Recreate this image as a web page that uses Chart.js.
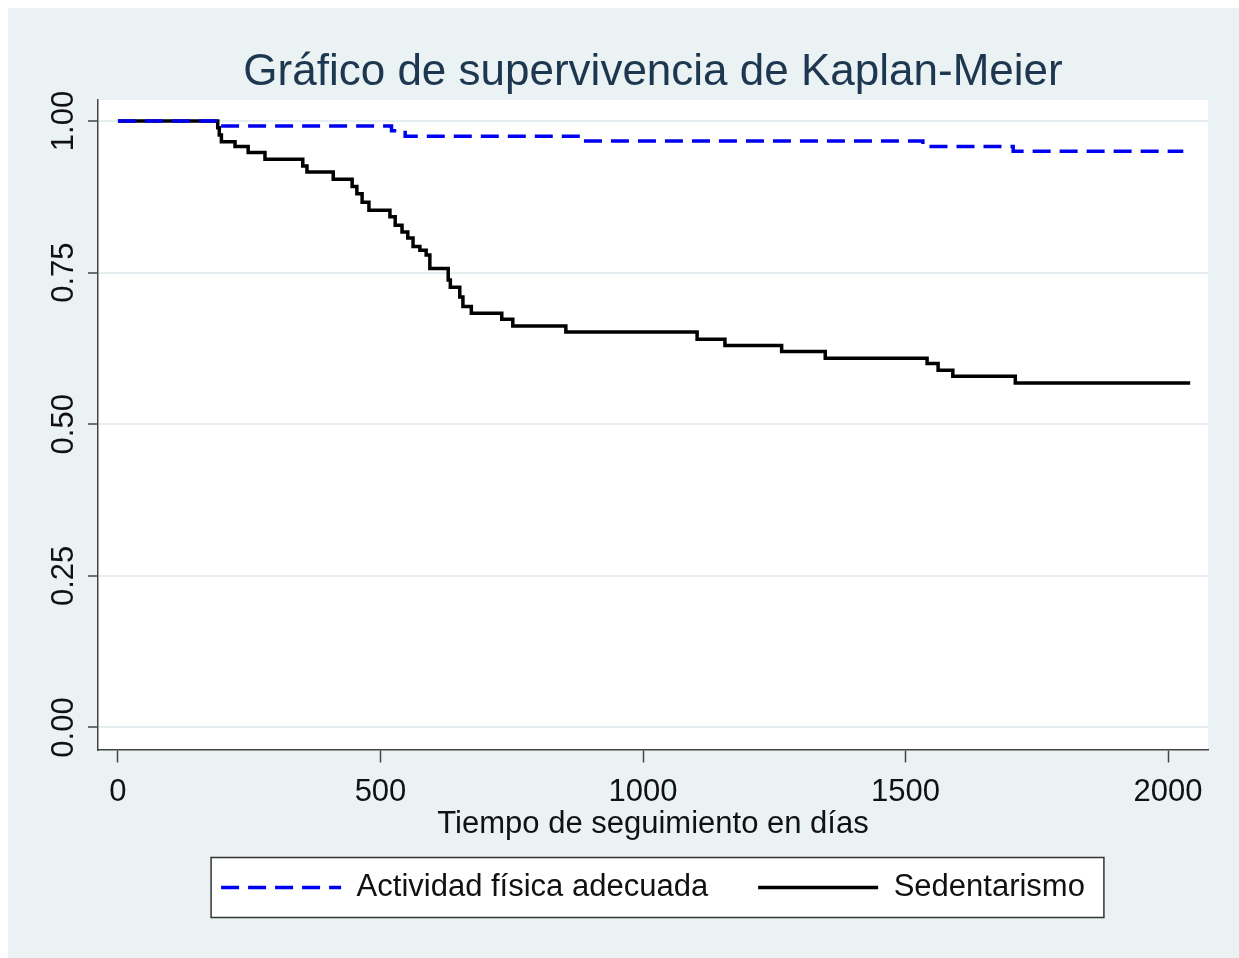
<!DOCTYPE html>
<html>
<head>
<meta charset="utf-8">
<script src="https://cdn.jsdelivr.net/npm/chart.js@4/dist/chart.umd.min.js"></script>
<style>
  html, body { margin: 0; padding: 0; background: #fff; overflow: hidden; }
  #km { position: absolute; left: 0; top: 0; }
</style>
</head>
<body>
<canvas id="km" width="1306" height="958"></canvas>
<script>
// Kaplan-Meier survival (days, survival after the step)
var activeTimes = [0, 190, 521, 547, 880, 1533, 1705, 2029];
var activeSurv  = [1, 0.992, 0.984, 0.975, 0.967, 0.958, 0.950, 0.950];

var sedTimes = [0, 190, 193, 197, 223, 248, 280, 352, 360, 410, 446, 455, 465, 478,
                518, 528, 541, 552, 562, 575, 587, 594, 629, 633, 651, 657, 673,
                731, 752, 853, 1103, 1156, 1264, 1347, 1541, 1562, 1590, 1709, 2042];
var sedSurv  = [1, 0.989, 0.977, 0.966, 0.958, 0.948, 0.937, 0.926, 0.916, 0.904, 0.892, 0.880, 0.866, 0.853,
                0.842, 0.828, 0.817, 0.807, 0.793, 0.787, 0.779, 0.757, 0.738, 0.726, 0.710, 0.694, 0.683,
                0.673, 0.662, 0.652, 0.640, 0.630, 0.620, 0.609, 0.600, 0.589, 0.579, 0.568, 0.568];

var seriesNames = ['Actividad física adecuada', 'Sedentarismo'];
var xTicks = [0, 500, 1000, 1500, 2000];
var yTicks = [0, 0.25, 0.5, 0.75, 1];

var FONT = "'Liberation Sans', Arial, sans-serif";
var BG = '#eaf2f3';

function pts(ts, ss) {
  return ts.map(function (t, i) { return { x: t, y: ss[i] }; });
}

// backgrounds: light outer panel, white plot region, white legend frame
var panels = {
  id: 'panels',
  beforeDraw: function (chart) {
    var c = chart.ctx, a = chart.chartArea;
    c.save();
    c.fillStyle = '#fff';
    c.fillRect(0, 0, chart.width, chart.height);
    c.fillStyle = BG;
    c.fillRect(8, 8, chart.width, chart.height);
    c.fillStyle = '#fff';
    c.fillRect(a.left, a.top, a.right - a.left, a.bottom - a.top);

    var lg = chart.legend, pad = lg.options.labels.padding;
    var w = lg.lineWidths[0] - pad;
    var x0 = (lg.left + lg.right - w) / 2;
    var cy = lg.top + pad + lg.options.labels.font.size / 2;
    c.fillStyle = '#fff';
    c.strokeStyle = '#333';
    c.lineWidth = 1.5;
    c.fillRect(x0 - 10, cy - 30, w + 29, 60);
    c.strokeRect(x0 - 10, cy - 30, w + 29, 60);
    c.restore();
  }
};

new Chart(document.getElementById('km'), {
  type: 'line',
  data: {
    datasets: [{
      label: seriesNames[0],
      data: pts(activeTimes, activeSurv),
      borderColor: '#0000f0',
      backgroundColor: '#0000f0',
      borderWidth: 3.5,
      borderDash: [18, 9],
      stepped: true,
      pointRadius: 0
    }, {
      label: seriesNames[1],
      data: pts(sedTimes, sedSurv),
      borderColor: '#000',
      backgroundColor: '#000',
      borderWidth: 3.5,
      stepped: true,
      pointRadius: 0
    }]
  },
  options: {
    responsive: false,
    animation: false,
    devicePixelRatio: 1,
    layout: { padding: { left: 34, right: 34, top: 20, bottom: 45 } },
    scales: {
      x: {
        type: 'linear',
        min: -38,
        max: 2076,
        afterBuildTicks: function (s) { s.ticks = xTicks.map(function (v) { return { value: v }; }); },
        grid: { drawOnChartArea: false, tickLength: 13, tickColor: '#444', tickWidth: 1.5 },
        border: { color: '#444', width: 1.5 },
        ticks: {
          color: '#111', padding: 14.5, maxRotation: 0,
          font: { family: FONT, size: 31, lineHeight: 1 },
          callback: function (v) { return String(v); }
        },
        title: {
          display: true,
          text: 'Tiempo de seguimiento en días',
          color: '#111',
          font: { family: FONT, size: 31, lineHeight: 1 },
          padding: { top: -14, bottom: -17.5 }
        }
      },
      y: {
        min: -0.0363,
        max: 1.0347,
        afterBuildTicks: function (s) { s.ticks = yTicks.map(function (v) { return { value: v }; }); },
        afterFit: function (s) { s.width = 64; },
        grid: { color: '#e4eef0', lineWidth: 2, tickLength: 10, tickColor: '#444', tickWidth: 1.5 },
        border: { color: '#444', width: 1.5 },
        ticks: {
          color: '#111',
          padding: -7,
          minRotation: 90,
          maxRotation: 90,
          crossAlign: 'center',
          font: { family: FONT, size: 31, lineHeight: 1.2 },
          callback: function (v) { return Number(v).toFixed(2); }
        }
      },
      // empty right-hand box so title and legend centre on the plot
      yPad: {
        position: 'right',
        afterFit: function (s) { s.width = 64; },
        grid: { display: false },
        border: { display: false },
        ticks: { display: false }
      }
    },
    plugins: {
      title: {
        display: true,
        text: 'Gráfico de supervivencia de Kaplan-Meier',
        color: '#1e3750',
        font: { family: FONT, size: 44, weight: 'normal', lineHeight: 1.2 },
        padding: { top: 26.6, bottom: 0.6 }
      },
      legend: {
        position: 'bottom',
        labels: {
          usePointStyle: true,
          pointStyle: 'line',
          pointStyleWidth: 120,
          boxHeight: 10,
          padding: 50,
          color: '#111',
          font: { family: FONT, size: 31 },
          generateLabels: function (chart) {
            var items = Chart.defaults.plugins.legend.labels.generateLabels(chart);
            items.forEach(function (it) {
              var ds = chart.data.datasets[it.datasetIndex];
              it.lineDash = ds.borderDash || [];
              it.lineWidth = ds.borderWidth;
              it.strokeStyle = ds.borderColor;
              it.pointStyle = 'line';
            });
            return items;
          }
        }
      },
      tooltip: { enabled: false }
    }
  },
  plugins: [panels]
});
</script>
</body>
</html>
